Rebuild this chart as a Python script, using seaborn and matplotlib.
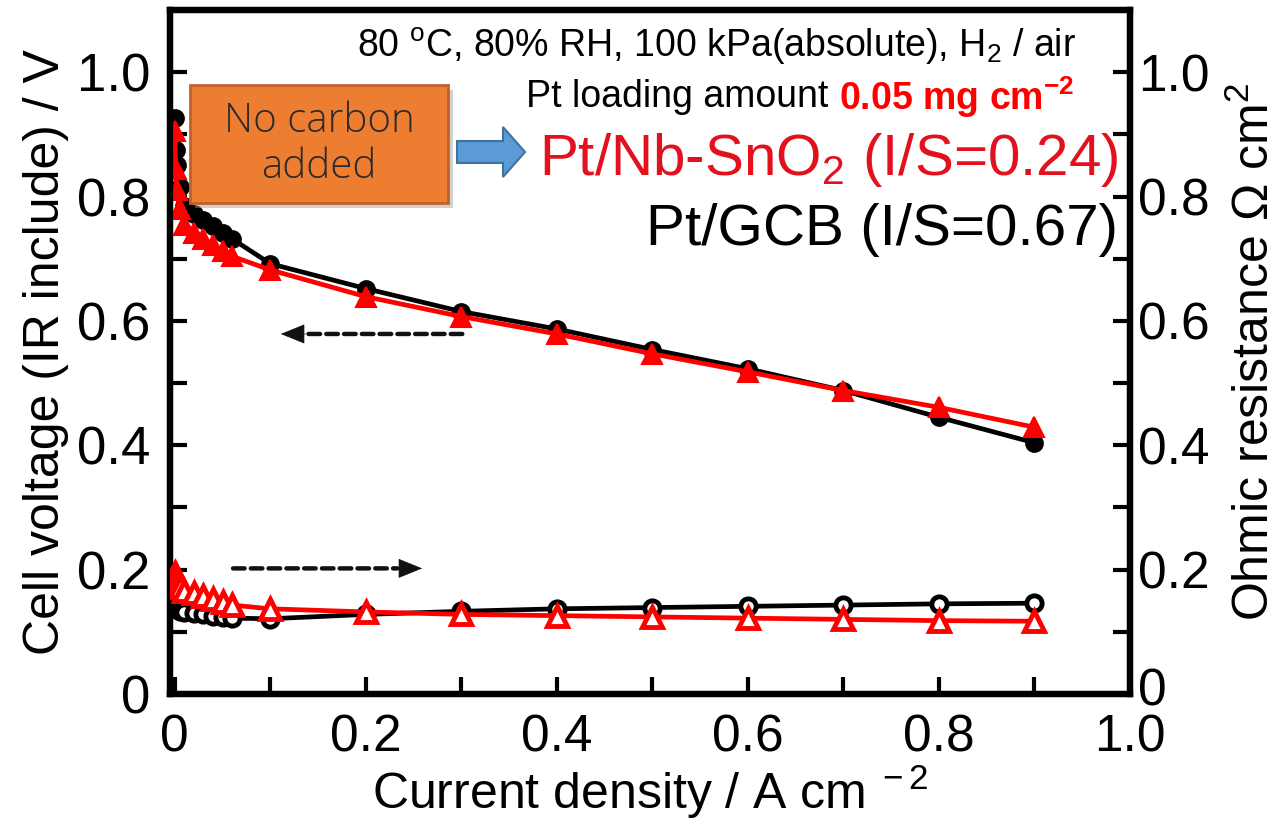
import matplotlib
matplotlib.use("Agg")
import matplotlib.pyplot as plt
import matplotlib.transforms as mtransforms
import seaborn as sns
import pandas as pd
from matplotlib.patches import Rectangle, FancyArrow

# ---------------- data ----------------
current = [0.0, 0.001, 0.002, 0.005, 0.01, 0.02, 0.03, 0.04, 0.05, 0.06,
           0.1, 0.2, 0.3, 0.4, 0.5, 0.6, 0.7, 0.8, 0.9]
volt_gcb = [0.926, 0.875, 0.850, 0.815, 0.785, 0.772, 0.762, 0.752, 0.742, 0.732,
            0.692, 0.652, 0.615, 0.587, 0.554, 0.523, 0.488, 0.445, 0.404]
volt_nbsno2 = [0.905, 0.845, 0.810, 0.780, 0.755, 0.742, 0.732, 0.722, 0.713, 0.704,
               0.682, 0.639, 0.607, 0.579, 0.547, 0.518, 0.488, 0.461, 0.429]
ohm_gcb = [0.140, 0.138, 0.136, 0.134, 0.132, 0.130, 0.128, 0.126, 0.124, 0.122,
           0.121, 0.128, 0.133, 0.137, 0.139, 0.141, 0.143, 0.145, 0.146]
ohm_nbsno2 = [0.194, 0.186, 0.179, 0.172, 0.166, 0.162, 0.158, 0.153, 0.148, 0.143,
              0.137, 0.132, 0.128, 0.126, 0.124, 0.122, 0.120, 0.118, 0.117]

x_ticks = [0, 0.2, 0.4, 0.6, 0.8, 1.0]
x_ticklabels = ["0", "0.2", "0.4", "0.6", "0.8", "1.0"]
y_ticks = [0, 0.2, 0.4, 0.6, 0.8, 1.0]
y_ticklabels = ["0", "0.2", "0.4", "0.6", "0.8", "1.0"]

df = pd.DataFrame({"current": current, "v_gcb": volt_gcb, "v_nb": volt_nbsno2,
                   "r_gcb": ohm_gcb, "r_nb": ohm_nbsno2})

# ---------------- style ----------------
sns.set_style("ticks")
plt.rcParams["font.family"] = ["Liberation Sans", "DejaVu Sans"]
plt.rcParams["mathtext.fontset"] = "custom"
plt.rcParams["mathtext.rm"] = "Liberation Sans"
plt.rcParams["mathtext.it"] = "Liberation Sans:italic"
plt.rcParams["mathtext.bf"] = "Liberation Sans:bold"
for k in ("text.color", "axes.labelcolor", "xtick.color", "ytick.color", "axes.edgecolor"):
    plt.rcParams[k] = "black"

W, H = 1286, 819
fig = plt.figure(figsize=(W / 100, H / 100), dpi=100)
ax = fig.add_axes([170 / W, 1 - 694 / H, (1130 - 170) / W, (694 - 10) / H])
ax2 = ax.twinx()

RED = "#FF0000"
BLACK = "#000000"
LW = 3.4

# voltage curves (left axis)
sns.lineplot(data=df, x="current", y="v_gcb", ax=ax, color=BLACK, lw=LW,
             marker="o", markersize=12, markerfacecolor=BLACK,
             markeredgecolor=BLACK, markeredgewidth=1.5, zorder=3)
sns.lineplot(data=df, x="current", y="v_nb", ax=ax, color=RED, lw=LW,
             marker="^", markersize=14, markerfacecolor=RED,
             markeredgecolor=RED, markeredgewidth=1.5, zorder=4)

# ohmic resistance (right axis)
sns.lineplot(data=df, x="current", y="r_gcb", ax=ax2, color=BLACK, lw=LW,
             marker="o", markersize=11, markerfacecolor="white",
             markeredgecolor=BLACK, markeredgewidth=3.5, zorder=3)
sns.lineplot(data=df, x="current", y="r_nb", ax=ax2, color=RED, lw=LW,
             marker="^", markersize=14, markerfacecolor="white",
             markeredgecolor=RED, markeredgewidth=3.5, zorder=4)

for a in (ax, ax2):
    a.set_xlim(-0.005, 1.0)
    a.set_ylim(0, 1.1)
    for s in a.spines.values():
        s.set_linewidth(4.5)
        s.set_color("black")

TICKFS = 38
ax.set_xticks(x_ticks)
ax.set_xticklabels(x_ticklabels)
ax.set_xticks([0.1, 0.3, 0.5, 0.7, 0.9], minor=True)
ax.set_yticks(y_ticks)
ax.set_yticklabels(y_ticklabels)
ax.set_yticks([0.1, 0.3, 0.5, 0.7, 0.9], minor=True)
ax2.set_yticks(y_ticks)
ax2.set_yticklabels(y_ticklabels)
ax2.set_yticks([0.1, 0.3, 0.5, 0.7, 0.9], minor=True)

ax.tick_params(axis="both", which="both", direction="in", length=12, width=3,
               labelsize=TICKFS, top=False, right=False, colors="black")
ax.tick_params(axis="x", which="major", pad=14, labelsize=37)
ax.tick_params(axis="y", which="major", pad=14)
ax2.tick_params(axis="y", which="both", direction="in", length=12, width=3,
                labelsize=37, pad=6, colors="black")
# lift the right-hand "0" a few pixels so it does not run into the x label "1.0"
lab0 = ax2.get_yticklabels()[0]
lab0.set_transform(lab0.get_transform() +
                   mtransforms.ScaledTranslation(0, 0.07, fig.dpi_scale_trans))

ax.set_xlabel("Current density / A cm$^{\\ -2}$", fontsize=36, labelpad=0)
ax.set_ylabel("Cell voltage (IR include) / V", fontsize=36, labelpad=6)
ax2.set_ylabel("Ohmic resistance \u03a9 cm$^2$", fontsize=36, labelpad=15)

# ---------------- annotations ----------------
def fx(px):
    return px / W

def fy(py):
    return 1 - py / H

fig.text(fx(1076), fy(46), "80 $^{\\mathrm{o}}$C, 80% RH, 100 kPa(absolute), H$_2$ / air",
         ha="right", va="center", fontsize=27, color="black")
t_red = fig.text(fx(1074), fy(97), "0.05 mg cm$^{\\mathbf{-2}}$", ha="right", va="center",
                 fontsize=27, color=RED, fontweight="bold")
ax.annotate("Pt loading amount ", xy=(0, 0.5), xycoords=t_red, ha="right",
            va="center", fontsize=27, color="black")

fig.text(fx(1118), fy(160), "Pt/Nb-SnO$_2$ (I/S=0.24)", ha="right", va="center",
         fontsize=42, color="#E3101E")
fig.text(fx(1118), fy(230), "Pt/GCB (I/S=0.67)", ha="right", va="center",
         fontsize=42, color="black")

# orange box with shadow
bx0, by0, bx1, by1 = 190, 85, 448, 203
shadow = Rectangle((fx(bx0 + 5), fy(by1 + 5)), fx(bx1 - bx0), (by1 - by0) / H,
                   transform=fig.transFigure, facecolor="#9a9a9a", alpha=0.45,
                   edgecolor="none", zorder=9)
box = Rectangle((fx(bx0), fy(by1)), fx(bx1 - bx0), (by1 - by0) / H,
                transform=fig.transFigure, facecolor="#ED7D31", edgecolor="#C0622A",
                linewidth=2, zorder=10)
fig.add_artist(shadow)
fig.add_artist(box)
fig.text(fx(319), fy(121), "No carbon", ha="center", va="center", fontsize=29,
         color="#2b2b2b", family=["Open Sans", "DejaVu Sans"], fontweight="light", zorder=11)
fig.text(fx(319), fy(167), "added", ha="center", va="center", fontsize=29,
         color="#2b2b2b", family=["Open Sans", "DejaVu Sans"], fontweight="light", zorder=11)

# blue block arrow
arr = FancyArrow(fx(457), fy(152), fx(68), 0, width=22 / H, head_width=50 / H,
                 head_length=fx(22), length_includes_head=True,
                 transform=fig.transFigure, facecolor="#5B9BD5", edgecolor="#41719C",
                 linewidth=1.5, zorder=10)
fig.add_artist(arr)

# dashed arrows showing which axis each curve set belongs to
def dashed_arrow(x_from, x_to, y, axis):
    d = 0.026 if x_to > x_from else -0.026
    axis.annotate("", xy=(x_to - d, y), xytext=(x_from, y),
                  arrowprops=dict(arrowstyle="-", lw=3.2, color="#111111",
                                  linestyle=(0, (2.6, 1.4)), shrinkA=0, shrinkB=0))
    axis.annotate("", xy=(x_to, y), xytext=(x_to - d, y),
                  arrowprops=dict(arrowstyle="-|>,head_length=1.6,head_width=0.65",
                                  lw=0.5, color="#111111", shrinkA=0, shrinkB=0))

dashed_arrow(0.301, 0.111, 0.579, ax)
dashed_arrow(0.061, 0.259, 0.202, ax)

fig.savefig("out.png", dpi=100)
